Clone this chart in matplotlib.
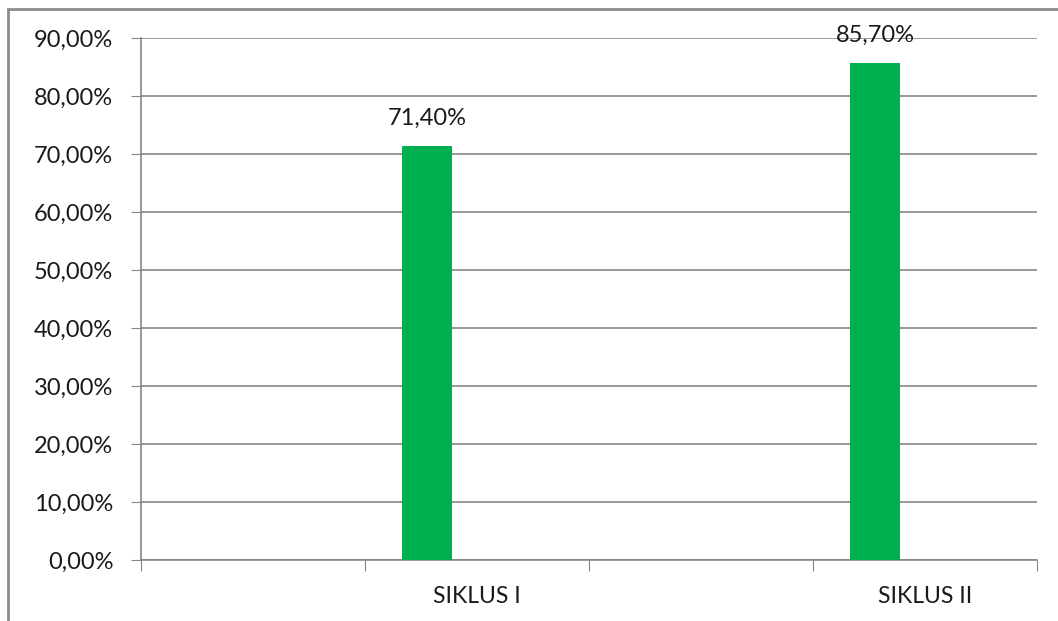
import numpy as np
import matplotlib.pyplot as plt
from matplotlib.patches import Rectangle

plt.rcParams['font.family'] = ['Lato', 'DejaVu Sans']

# 4 category slots, only the 2nd and 4th are labelled
categories = ['', 'SIKLUS I', '', 'SIKLUS II']
values = [np.nan, 0.714, np.nan, 0.857]
value_labels = ['', '71,40%', '', '85,70%']
yticks = [0.0, 0.1, 0.2, 0.3, 0.4, 0.5, 0.6, 0.7, 0.8, 0.9]

grey = '#868686'
green = '#00B050'
txt = '#1a1a1a'

fig = plt.figure(figsize=(10.58, 6.21), dpi=100)
ax = fig.add_axes([0.1333, 0.0982, 0.8468, 0.8406])

x = np.arange(len(categories))
width = 0.222
# first series of a 3-series cluster, so it sits left of the slot centre
bars = ax.bar(x - width, values, width, color=green, zorder=3)

for xi, v, lab in zip(x, values, value_labels):
    if lab:
        ax.text(xi - width, v + 0.03, lab, ha='center', va='bottom', fontsize=17, color=txt)

ax.set_xlim(-0.5, 3.5)
ax.set_ylim(0, 0.9)
ax.set_yticks(yticks)
ax.set_yticklabels([('%.2f%%' % (t * 100)).replace('.', ',') for t in yticks])
ax.set_xticks(np.arange(-0.5, 4, 1.0))
ax.set_xticklabels([])
ax.set_xticks(x, minor=True)
ax.set_xticklabels(categories, minor=True)
ax.tick_params(axis='x', which='minor', length=0, pad=19, labelsize=16.5, labelcolor=txt)
ax.tick_params(axis='x', which='major', length=8, color=grey, direction='out')
ax.tick_params(axis='y', length=7, color=grey, pad=13, labelsize=17, labelcolor=txt)

ax.yaxis.grid(True, color=grey, linewidth=1.2)
ax.set_axisbelow(True)
for s in ['top', 'right']:
    ax.spines[s].set_visible(False)
for s in ['left', 'bottom']:
    ax.spines[s].set_color(grey)
    ax.spines[s].set_linewidth(1.2)

# chart frame, cut off at the right and bottom like the screenshot
fig.patches.append(Rectangle((8 / 1058, -0.1), 1.2, 1 - 9 / 621 + 0.1, transform=fig.transFigure,
                             fill=False, edgecolor='#8c8c8c', linewidth=2))

fig.savefig('out.png', dpi=100)
